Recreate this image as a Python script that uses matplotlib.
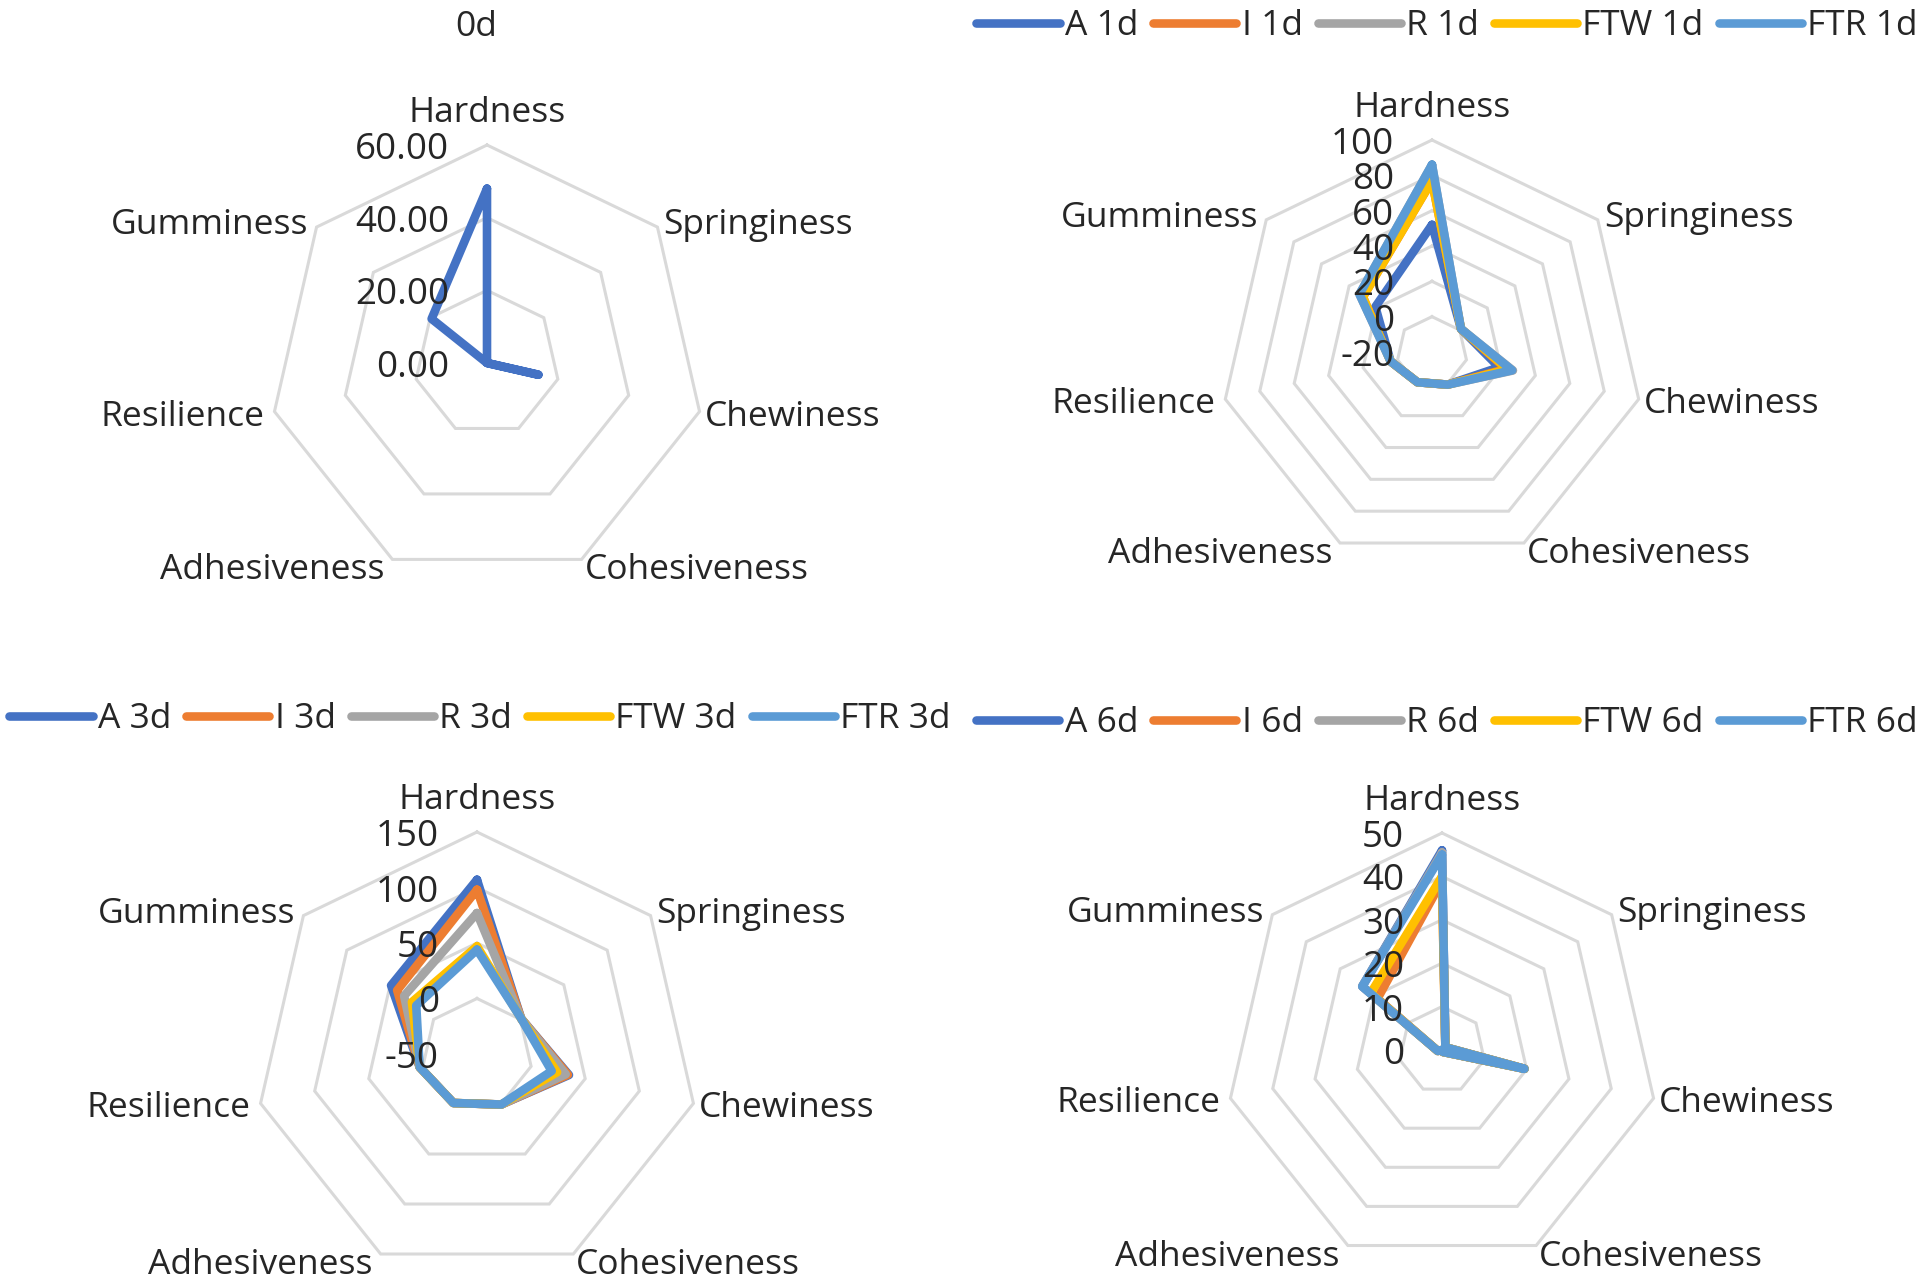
import numpy as np
import matplotlib

matplotlib.use("Agg")
import matplotlib.pyplot as plt

plt.rcParams["font.family"] = ["Open Sans", "DejaVu Sans"]

categories = ["Hardness", "Springiness", "Chewiness", "Cohesiveness",
              "Adhesiveness", "Resilience", "Gumminess"]
groups = ["A", "I", "R", "FTW", "FTR"]
colors = ["#4472C4", "#ED7D31", "#A5A5A5", "#FFC000", "#5B9BD5"]

# values, in category order above
day0_A = [48.0, 0.0, 14.5, 0.0, 0.0, 0.0, 19.5]

day1_A = [52.0, 1.0, 19.0, 0.5, -1.0, 4.0, 21.0]
day1_I = [77.0, 1.0, 23.0, 0.5, -1.0, 4.0, 30.0]
day1_R = [86.0, 1.0, 27.0, 0.5, -1.0, 4.0, 32.5]
day1_FTW = [77.0, 1.0, 24.0, 0.5, -1.0, 4.0, 30.0]
day1_FTR = [86.0, 1.0, 26.5, 0.5, -1.0, 4.0, 32.5]

day3_A = [107.0, 1.0, 35.0, 0.5, -1.0, 3.0, 49.0]
day3_I = [98.0, 1.0, 34.0, 0.5, -1.0, 3.0, 42.0]
day3_R = [77.0, 1.0, 32.0, 0.5, -1.0, 3.0, 34.0]
day3_FTW = [47.0, 1.0, 24.0, 0.5, -1.0, 3.0, 25.0]
day3_FTR = [44.0, 1.0, 19.0, 0.5, -1.0, 3.0, 20.0]

day6_A = [46.0, 1.0, 19.5, 0.5, 0.0, 1.0, 23.5]
day6_I = [39.0, 1.0, 19.5, 0.5, 0.0, 1.0, 19.0]
day6_R = [45.5, 1.0, 19.5, 0.5, 0.0, 1.0, 23.5]
day6_FTW = [40.0, 1.0, 19.5, 0.5, 0.0, 1.0, 21.0]
day6_FTR = [45.0, 1.0, 19.5, 0.5, 0.0, 1.0, 23.5]

ticks0 = [0, 20, 40, 60]
ticks1 = [-20, 0, 20, 40, 60, 80, 100]
ticks3 = [-50, 0, 50, 100, 150]
ticks6 = [0, 10, 20, 30, 40, 50]

W, H = 1922, 1282
FS = 25.5
TFS = 26.5
LW = 6.2
TXT = "#262626"
fig = plt.figure(figsize=(W / 100, H / 100), dpi=100)

ang = 2 * np.pi * np.arange(len(categories)) / len(categories)
# label offsets in px (right, up) and alignment
lab_off = [(0, 32, "center"), (6, 2, "left"), (5, -5, "left"), (3, -11, "left"),
           (-8, -11, "right"), (-10, -5, "right"), (-8, 2, "right")]


def panel(cx, cy, rad, ticks, series, fmt):
    S = 340
    ax = fig.add_axes([(cx - S) / W, 1 - (cy + S) / H, 2 * S / W, 2 * S / H])
    vmin, vmax = ticks[0], ticks[-1]
    ppu = rad / (vmax - vmin)
    lim = S / ppu
    ax.set_xlim(-lim, lim)
    ax.set_ylim(-lim, lim)
    ax.set_aspect("equal")
    ax.set_axis_off()

    closed = np.append(ang, ang[0])
    for t in ticks[1:]:
        r = t - vmin
        ax.plot(r * np.sin(closed), r * np.cos(closed), color="#D9D9D9",
                lw=2.2, zorder=1, solid_joinstyle="miter")
    for t in ticks:
        ax.text(-38 / ppu, t - vmin - 5 / ppu, fmt.format(t), ha="right",
                va="center", fontsize=TFS, color=TXT, clip_on=False)

    R = vmax - vmin
    for k, name in enumerate(categories):
        dx, dy, ha = lab_off[k]
        x = R * np.sin(ang[k]) + dx / ppu
        y = R * np.cos(ang[k]) + dy / ppu
        ax.text(x, y, name, ha=ha, va="center", fontsize=FS, color=TXT,
                clip_on=False)

    handles = []
    for label, vals, col in series:
        r = np.append(np.array(vals) - vmin, vals[0] - vmin)
        (ln,) = ax.plot(r * np.sin(closed), r * np.cos(closed), color=col, lw=LW,
                        solid_joinstyle="round", solid_capstyle="round",
                        zorder=2, label=label, clip_on=False)
        handles.append(ln)
    return handles


panel(487, 363, 218, ticks0, [("A 0d", day0_A, colors[0])], "{:.2f}")
fig.text(476 / W, 1 - 27 / H, "0d", ha="center", va="center", fontsize=FS,
         color=TXT)

day_sets = {
    "1d": [day1_A, day1_I, day1_R, day1_FTW, day1_FTR],
    "3d": [day3_A, day3_I, day3_R, day3_FTW, day3_FTR],
    "6d": [day6_A, day6_I, day6_R, day6_FTW, day6_FTR],
}
layout = {
    "1d": (1432, 352, 212, ticks1, (1447, 26)),
    "3d": (477, 1054, 222, ticks3, (480, 719)),
    "6d": (1442, 1050, 217, ticks6, (1447, 723)),
}
for day, vals in day_sets.items():
    cx, cy, rad, ticks, (lx, ly) = layout[day]
    series = [(f"{g} {day}", v, c) for g, v, c in zip(groups, vals, colors)]
    hs = panel(cx, cy, rad, ticks, series, "{:g}")
    fig.legend(hs, [h.get_label() for h in hs], loc="center", ncol=5,
               bbox_to_anchor=(lx / W, 1 - ly / H), frameon=False,
               fontsize=FS, handlelength=2.35, handletextpad=0.15,
               columnspacing=0.42, borderpad=0, labelcolor=TXT)

fig.savefig("out.png", dpi=100)
